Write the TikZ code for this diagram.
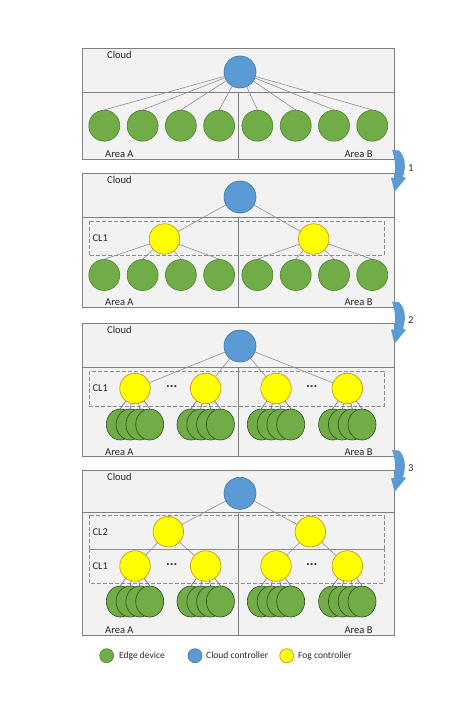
\documentclass[tikz,border=0pt]{standalone}
\usepackage{fontspec}
\setmainfont{Carlito}
\usetikzlibrary{shapes.geometric}
\definecolor{panelfill}{HTML}{F2F2F2}
\definecolor{panelborder}{HTML}{7F7F7F}
\definecolor{dashgray}{HTML}{8C8C8C}
\definecolor{linkgray}{HTML}{8F8F8F}
\definecolor{stacklink}{HTML}{5A6E9A}
\definecolor{cblue}{HTML}{5B9BD5}
\definecolor{cblueb}{HTML}{41719C}
\definecolor{fogfill}{HTML}{FFFF00}
\definecolor{fogb}{HTML}{BF9000}
\definecolor{egreen}{HTML}{70AD47}
\definecolor{egreenb}{HTML}{507E32}
\definecolor{stackb}{HTML}{2F4A1C}
\definecolor{arrowblue}{HTML}{5B9BD5}
\pgfdeclarelayer{bg}
\pgfdeclarelayer{lk}
\pgfsetlayers{bg,lk,main}
\tikzset{
  panel/.style={draw=panelborder, fill=panelfill, line width=0.7pt},
  dashbox/.style={draw=dashgray, line width=0.6pt, dash pattern=on 4pt off 2pt},
  cloudc/.style={circle, fill=cblue, draw=cblueb, line width=0.6pt, minimum size=32pt, inner sep=0pt},
  fog/.style={circle, fill=fogfill, draw=fogb, line width=0.6pt, minimum size=30.5pt, inner sep=0pt},
  edgec/.style={circle, fill=egreen, draw=egreenb, line width=0.6pt, minimum size=31pt, inner sep=0pt},
  stackc/.style={ellipse, fill=egreen, draw=stackb, line width=0.6pt, minimum width=28pt, minimum height=31pt, inner sep=0pt},
  link/.style={draw=linkgray, line width=0.6pt},
  slink/.style={draw=stacklink, line width=0.6pt},
  lbl/.style={font=\fontsize{10.5}{12}\selectfont, inner sep=0pt, text=black!85},
  leg/.style={font=\fontsize{9.5}{11}\selectfont, inner sep=0pt, anchor=west, text=black!85},
  dots/.style={font=\fontsize{14}{14}\selectfont\bfseries, inner sep=0pt, text=black!80},
  legc/.style={circle, line width=0.6pt, minimum size=14pt, inner sep=0pt},
  flowarrow/.style={fill=arrowblue}
}
\begin{document}
\begin{tikzpicture}[x=1pt,y=-1pt]
\useasboundingbox (0,0) rectangle (472,711);
% ---------------- Panel 1 ----------------
\begin{pgfonlayer}{bg}
\draw[panel] (82,48) rectangle (394,92);
\draw[panel] (82,92) rectangle (238,159);
\draw[panel] (238,92) rectangle (394,159);
\end{pgfonlayer}
\node[lbl, anchor=west] (p1cl) at (107,55) {Cloud};
\node[lbl, anchor=west] (p1a) at (105,154) {Area A};
\node[lbl, anchor=east] (p1b) at (372.7,154) {Area B};
\node[cloudc] (p1c) at (240,72) {};
\foreach \i in {1,...,8} {
  \node[edgec] (p1g\i) at ({104.3+38.28*(\i-1)},125.7) {};
  \begin{pgfonlayer}{lk}\draw[link] (p1c) -- (p1g\i.north);\end{pgfonlayer}
}
% ---------------- Panel 2 ----------------
\begin{pgfonlayer}{bg}
\draw[panel] (82,173.3) rectangle (394,217);
\draw[panel] (82,217) rectangle (238,307);
\draw[panel] (238,217) rectangle (394,307);
\draw[dashbox] (89,221) rectangle (384,255.7);
\end{pgfonlayer}
\node[lbl, anchor=west] (p2cl) at (107,180.3) {Cloud};
\node[lbl, anchor=west] (p2l1) at (92.3,238) {CL1};
\node[lbl, anchor=west] (p2a) at (105,302) {Area A};
\node[lbl, anchor=east] (p2b) at (372.7,302) {Area B};
\node[cloudc] (p2c) at (240,197) {};
\node[fog] (p2y1) at (164.5,239) {};
\node[fog] (p2y2) at (313.7,239) {};
\begin{pgfonlayer}{lk}
\draw[link] (p2c) -- (p2y1);
\draw[link] (p2c) -- (p2y2);
\end{pgfonlayer}
\foreach \i in {1,...,8} {
  \node[edgec] (p2g\i) at ({104.3+38.28*(\i-1)},275) {};
}
\begin{pgfonlayer}{lk}
\foreach \i in {1,...,4} {\draw[link] (p2y1) -- (p2g\i.north);}
\foreach \i in {5,...,8} {\draw[link] (p2y2) -- (p2g\i.north);}
\end{pgfonlayer}
% ---------------- Panel 3 ----------------
\begin{pgfonlayer}{bg}
\draw[panel] (82,323.3) rectangle (394,367.3);
\draw[panel] (82,367.3) rectangle (238,456.7);
\draw[panel] (238,367.3) rectangle (394,456.7);
\draw[dashbox] (89,371) rectangle (384,406.7);
\end{pgfonlayer}
\node[lbl, anchor=west] (p3cl) at (107,330.3) {Cloud};
\node[lbl, anchor=west] (p3l1) at (92.3,388) {CL1};
\node[lbl, anchor=west] (p3a) at (105,451.7) {Area A};
\node[lbl, anchor=east] (p3b) at (372.7,451.7) {Area B};
\node[cloudc] (p3c) at (240,346) {};
\node[dots] (p3d1) at (171.7,387) {...};
\node[dots] (p3d2) at (311.7,387) {...};
\foreach \k/\x in {1/135,2/205.7,3/276,4/347.3} {
  \node[fog] (p3y\k) at (\x,388.5) {};
  \begin{pgfonlayer}{lk}\draw[link] (p3c) -- (p3y\k);\end{pgfonlayer}
  \foreach \j in {1,...,4} {
    \node[stackc] (p3s\k\j) at ({\x-14.7+9.8*(\j-1)},424.5) {};
    \begin{pgfonlayer}{lk}\draw[slink] (p3y\k) -- (p3s\k\j.north);\end{pgfonlayer}
  }
}
% ---------------- Panel 4 ----------------
\begin{pgfonlayer}{bg}
\draw[panel] (82,470) rectangle (394,512.7);
\draw[panel] (82,512.7) rectangle (238,635);
\draw[panel] (238,512.7) rectangle (394,635);
\draw[dashbox] (89,515) rectangle (384,549.3);
\draw[dashbox] (89,549.3) rectangle (384,583.3);
\end{pgfonlayer}
\node[lbl, anchor=west] (p4cl) at (107,477) {Cloud};
\node[lbl, anchor=west] (p4l2) at (92.3,532) {CL2};
\node[lbl, anchor=west] (p4l1) at (92.3,566) {CL1};
\node[lbl, anchor=west] (p4a) at (105,630) {Area A};
\node[lbl, anchor=east] (p4b) at (372.7,630) {Area B};
\node[cloudc] (p4c) at (240,493.3) {};
\node[fog] (p4u1) at (168.3,531.7) {};
\node[fog] (p4u2) at (310.3,531.7) {};
\begin{pgfonlayer}{lk}
\draw[link] (p4c) -- (p4u1);
\draw[link] (p4c) -- (p4u2);
\end{pgfonlayer}
\node[dots] (p4d1) at (171.7,564.5) {...};
\node[dots] (p4d2) at (311.7,564.5) {...};
\foreach \k/\x/\u in {1/135/1,2/205.7/1,3/276/2,4/347.3/2} {
  \node[fog] (p4y\k) at (\x,566) {};
  \begin{pgfonlayer}{lk}\draw[link] (p4u\u) -- (p4y\k);\end{pgfonlayer}
  \foreach \j in {1,...,4} {
    \node[stackc] (p4s\k\j) at ({\x-14.7+9.8*(\j-1)},601.5) {};
    \begin{pgfonlayer}{lk}\draw[slink] (p4y\k) -- (p4s\k\j.north);\end{pgfonlayer}
  }
}
% ---------------- Arrows ----------------
\foreach \n/\t in {1/150,2/301.7,3/450} {
  \fill[flowarrow, shift={(391,\t)}] (1,0) -- (8,0.5) .. controls (14,6) and (15.5,16) .. (12,27)
    -- (15,28) -- (3.5,42) -- (0,28) -- (3,28) .. controls (5,18) and (4,8) .. (1,0) -- cycle;
  \node[lbl] (num\n) at (410.7,\t+18) {\n};
}
% ---------------- Legend ----------------
\node[legc, fill=egreen, draw=egreenb] (lg1) at (106.7,655.7) {};
\node[leg] (lt1) at (119,655.7) {Edge device};
\node[legc, fill=cblue, draw=cblueb] (lg2) at (195,655.7) {};
\node[leg] (lt2) at (206,655.7) {Cloud controller};
\node[legc, fill=fogfill, draw=fogb] (lg3) at (286.7,655.7) {};
\node[leg] (lt3) at (298,655.7) {Fog controller};
\end{tikzpicture}
\end{document}
